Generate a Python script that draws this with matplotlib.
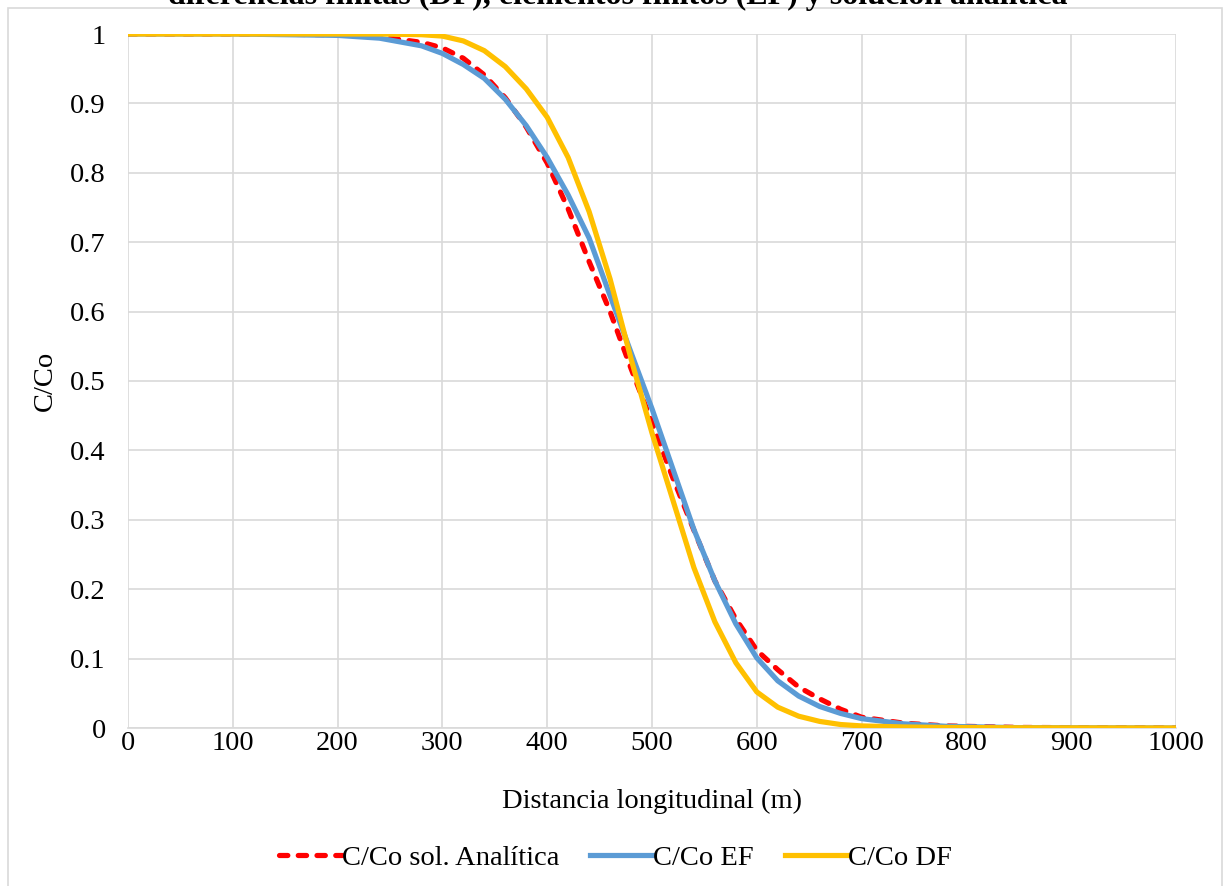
import matplotlib
matplotlib.use('Agg')
import matplotlib.pyplot as plt
from matplotlib.patches import Rectangle

# distance along the channel (m)
distancia = [0, 100, 200, 240, 280, 300, 320, 340, 360, 380, 400, 420, 440,
             460, 480, 500, 520, 540, 560, 580, 600, 620, 640, 660, 680, 700,
             740, 780, 850, 1000]

# C/Co
analitica = [1.0, 1.0, 0.999, 0.996, 0.988, 0.98, 0.965, 0.941, 0.908, 0.866,
             0.814, 0.748, 0.672, 0.60, 0.518, 0.44, 0.36, 0.285, 0.212, 0.157,
             0.112, 0.084, 0.059, 0.042, 0.027, 0.0155, 0.007, 0.003, 0.0008, 0.0]
ef = [1.0, 1.0, 0.998, 0.994, 0.983, 0.972, 0.956, 0.936, 0.906, 0.868,
      0.822, 0.768, 0.706, 0.623, 0.541, 0.46, 0.373, 0.286, 0.212, 0.15,
      0.101, 0.068, 0.046, 0.031, 0.021, 0.0135, 0.006, 0.0025, 0.0005, 0.0]
df = [1.0, 1.0, 1.0, 1.0, 0.999, 0.997, 0.99, 0.976, 0.953, 0.921,
      0.88, 0.822, 0.744, 0.647, 0.532, 0.425, 0.328, 0.231, 0.153, 0.094,
      0.052, 0.03, 0.017, 0.0095, 0.005, 0.003, 0.0015, 0.0008, 0.0003, 0.0]

xticks = list(range(0, 1001, 100))
yticks = [0, 0.1, 0.2, 0.3, 0.4, 0.5, 0.6, 0.7, 0.8, 0.9, 1]
ytick_labels = ['0', '0.1', '0.2', '0.3', '0.4', '0.5', '0.6', '0.7', '0.8', '0.9', '1']

plt.rcParams['font.family'] = ['Liberation Serif', 'DejaVu Serif']

W, H = 1223, 886
fig = plt.figure(figsize=(W / 100, H / 100), dpi=100)
ax = fig.add_axes([128 / W, (H - 728) / H, (1176 - 128) / W, (728 - 34) / H])

# chart border (the bottom edge is cropped away in the original)
fig.patches.append(Rectangle((7.5 / W, -0.05), (1221.5 - 7.5) / W, 1.05 - 7.5 / H,
                             transform=fig.transFigure, fill=False,
                             edgecolor='#d9d9d9', linewidth=1.2))

# the title is mostly cut off at the top of the picture
fig.text(0.505, 1 - 4 / H, 'diferencias finitas (DF), elementos finitos (EF) y solución analítica',
         ha='center', va='baseline', fontsize=23, fontweight='bold')

ax.plot(distancia, analitica, color='#FF0000', lw=3.75, dashes=(1.6, 2.0),
        dash_capstyle='round', label='C/Co sol. Analítica', zorder=3)
ax.plot(distancia, ef, color='#5B9BD5', lw=3.75, label='C/Co EF', zorder=4)
ax.plot(distancia, df, color='#FFC000', lw=3.75, label='C/Co DF', zorder=5)

ax.set_xlim(0, 1000)
ax.set_ylim(0, 1)
ax.set_xticks(xticks)
ax.set_yticks(yticks)
ax.set_yticklabels(ytick_labels)
ax.grid(True, color='#d9d9d9', linewidth=1.2)
ax.set_axisbelow(True)
for s in ['top', 'right', 'left']:
    ax.spines[s].set_visible(False)
ax.spines['bottom'].set_color('#d9d9d9')
ax.spines['bottom'].set_linewidth(1.2)
ax.tick_params(length=0, labelsize=20.5)
ax.tick_params(axis='x', pad=2)
ax.tick_params(axis='y', pad=16)

ax.set_xlabel('Distancia longitudinal (m)', fontsize=20.5, va='center')
ax.xaxis.set_label_coords(0.5, (728 - 801) / 694)
ax.set_ylabel('C/Co', fontsize=20.5, va='center')
ax.yaxis.set_label_coords((45 - 128) / 1048, 0.5)

fig.legend(loc='center', bbox_to_anchor=(0.503, (H - 858) / H), ncol=3,
           frameon=False, fontsize=20.5, handlelength=2.2, handletextpad=0.0,
           columnspacing=1.1)

fig.savefig('out.png', dpi=100)
